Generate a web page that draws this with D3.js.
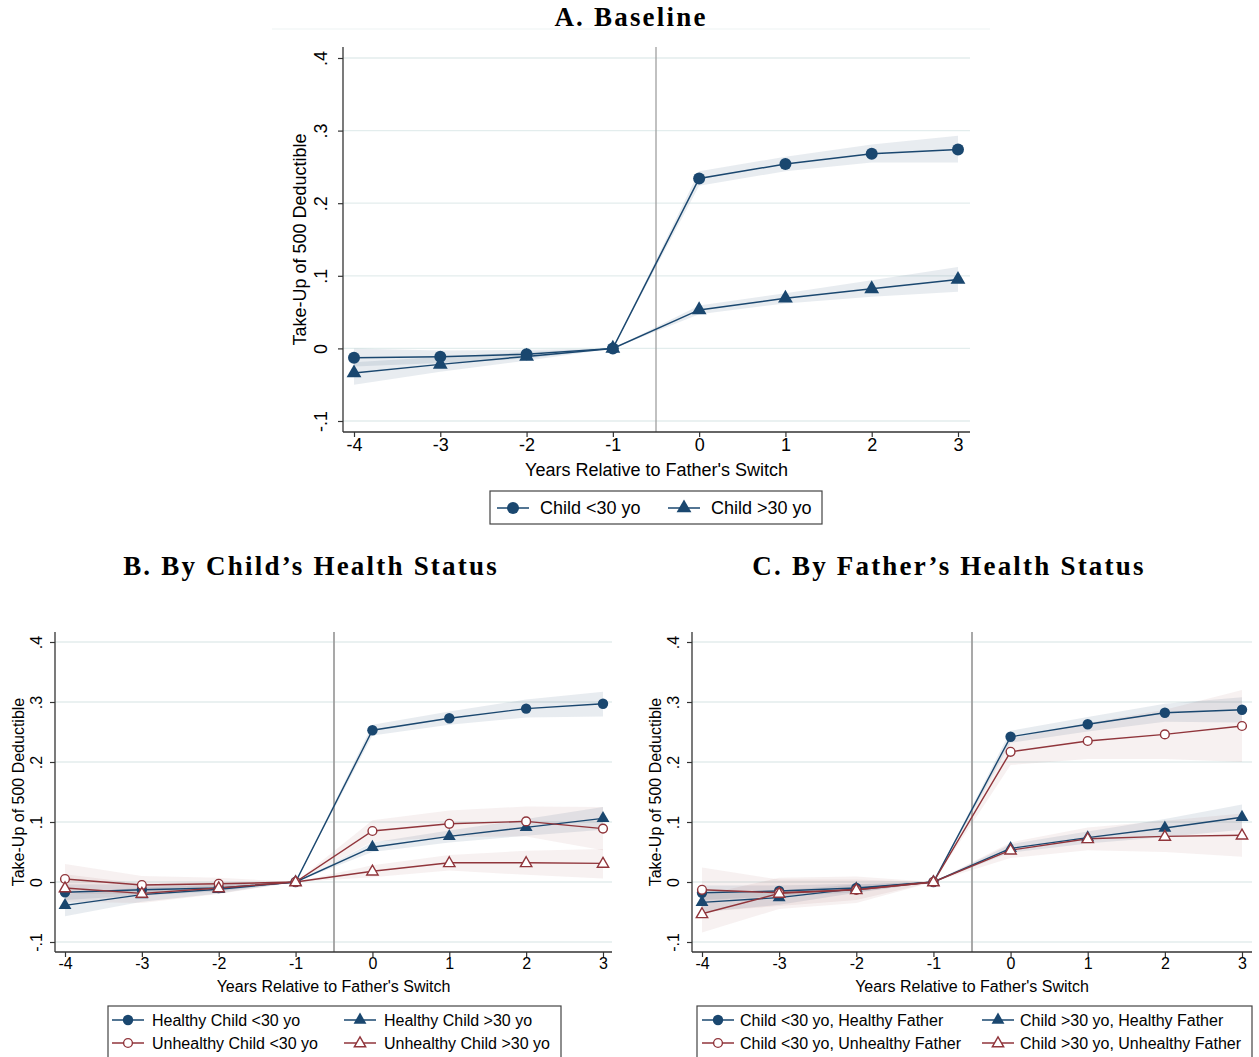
<!DOCTYPE html>
<html><head><meta charset="utf-8">
<script src="https://cdn.jsdelivr.net/npm/d3@7"></script>
<style>
body{margin:0;background:#fff;}
svg{display:block;}
text{font-family:"Liberation Sans",Arial,sans-serif;fill:#000;}
.ttl{font-family:"Liberation Serif","Times New Roman",serif;font-weight:bold;}
</style></head>
<body>
<script>
// ---------- data ----------
const years = [-4,-3,-2,-1,0,1,2,3];
const yTicks = [-0.1,0,0.1,0.2,0.3,0.4];
const yTickLabels = ["-.1","0",".1",".2",".3",".4"];
const xTickLabels = ["-4","-3","-2","-1","0","1","2","3"];

// Panel A
const A_young    = [-0.013,-0.0115,-0.008,0,0.234,0.254,0.268,0.274];
const A_young_lo = [-0.025,-0.020,-0.014,0,0.224,0.244,0.256,0.256];
const A_young_hi = [0.000,-0.003,-0.002,0,0.244,0.264,0.281,0.293];
const A_old      = [-0.034,-0.022,-0.011,0,0.053,0.069,0.082,0.095];
const A_old_lo   = [-0.050,-0.032,-0.017,0,0.047,0.062,0.071,0.078];
const A_old_hi   = [-0.019,-0.012,-0.005,0,0.059,0.076,0.094,0.112];

// Panel B
const B_hy    = [-0.017,-0.013,-0.010,0,0.253,0.273,0.289,0.297];
const B_hy_lo = [-0.030,-0.022,-0.016,0,0.244,0.262,0.274,0.276];
const B_hy_hi = [-0.004,-0.004,-0.004,0,0.262,0.284,0.304,0.317];
const B_ho    = [-0.039,-0.021,-0.012,0,0.058,0.076,0.091,0.106];
const B_ho_lo = [-0.057,-0.033,-0.019,0,0.050,0.066,0.077,0.087];
const B_ho_hi = [-0.021,-0.009,-0.005,0,0.066,0.086,0.105,0.125];
const B_uy    = [0.005,-0.005,-0.003,0,0.085,0.097,0.101,0.089];
const B_uy_lo = [-0.020,-0.020,-0.013,0,0.067,0.075,0.076,0.053];
const B_uy_hi = [0.030,0.010,0.007,0,0.103,0.119,0.126,0.125];
const B_uo    = [-0.010,-0.019,-0.010,0,0.018,0.032,0.032,0.031];
const B_uo_lo = [-0.033,-0.035,-0.020,0,0.008,0.019,0.012,0.006];
const B_uo_hi = [0.013,-0.003,0.000,0,0.028,0.045,0.052,0.055];

// Panel C
const C_yh    = [-0.018,-0.015,-0.010,0,0.242,0.263,0.282,0.287];
const C_yh_lo = [-0.030,-0.024,-0.017,0,0.232,0.251,0.267,0.266];
const C_yh_hi = [-0.006,-0.006,-0.003,0,0.252,0.275,0.297,0.308];
const C_yu    = [-0.013,-0.018,-0.013,0,0.217,0.235,0.246,0.260];
const C_yu_lo = [-0.050,-0.040,-0.030,0,0.195,0.205,0.205,0.200];
const C_yu_hi = [0.024,0.004,0.004,0,0.239,0.265,0.287,0.320];
const C_oh    = [-0.034,-0.026,-0.011,0,0.056,0.074,0.090,0.108];
const C_oh_lo = [-0.050,-0.038,-0.018,0,0.049,0.064,0.075,0.087];
const C_oh_hi = [-0.018,-0.014,-0.004,0,0.063,0.084,0.105,0.129];
const C_ou    = [-0.053,-0.019,-0.013,0,0.053,0.072,0.076,0.078];
const C_ou_lo = [-0.084,-0.045,-0.035,0,0.040,0.053,0.050,0.042];
const C_ou_hi = [-0.022,0.007,0.009,0,0.066,0.091,0.102,0.114];

const titles = ["A. Baseline","B. By Child\u2019s Health Status","C. By Father\u2019s Health Status"];
const xTitle = "Years Relative to Father's Switch";
const yTitle = "Take-Up of 500 Deductible";
const legA = ["Child <30 yo","Child >30 yo"];
const legB = ["Healthy Child <30 yo","Healthy Child >30 yo","Unhealthy Child <30 yo","Unhealthy Child >30 yo"];
const legC = ["Child <30 yo, Healthy Father","Child >30 yo, Healthy Father","Child <30 yo, Unhealthy Father","Child >30 yo, Unhealthy Father"];

// ---------- drawing ----------
const NAVY = "#1a476f", MAROON = "#90353b";
const svg = d3.select("body").append("svg").attr("width",1259).attr("height",1057);

function drawMarker(g, kind, x, y, big){
  const r = big ? 6 : 5.2;
  if(kind==="fc"){ g.append("circle").attr("cx",x).attr("cy",y).attr("r",r).attr("fill",NAVY); }
  else if(kind==="ft"){ g.append("path").attr("d",d3.symbol(d3.symbolTriangle, big?95:72)()).attr("transform",`translate(${x},${y})`).attr("fill",NAVY); }
  else if(kind==="hc"){ g.append("circle").attr("cx",x).attr("cy",y).attr("r",4.4).attr("fill","#fff").attr("stroke",MAROON).attr("stroke-width",1.4); }
  else if(kind==="ht"){ g.append("path").attr("d",d3.symbol(d3.symbolTriangle, 56)()).attr("transform",`translate(${x},${y+0.5})`).attr("fill","#fff").attr("stroke",MAROON).attr("stroke-width",1.4); }
}

function panel(cfg){
  const g = svg.append("g");
  const x = d3.scaleLinear().domain([-4,3]).range(cfg.xr);
  const y = d3.scaleLinear().domain([-0.1,0.4]).range(cfg.yr);
  const [L,R,T,B] = cfg.box;
  g.selectAll(".grid").data(yTicks).enter().append("line")
    .attr("x1",L).attr("x2",R).attr("y1",d=>y(d)).attr("y2",d=>y(d))
    .attr("stroke","#e3eded").attr("stroke-width",1.3);
  cfg.series.forEach(s=>{
    const area = d3.area().x((d,i)=>x(years[i])).y0((d,i)=>y(s.lo[i])).y1((d,i)=>y(s.hi[i]));
    g.append("path").datum(s.v).attr("d",area)
      .attr("fill", s.color===NAVY ? "rgba(26,71,111,0.10)" : "rgba(144,53,59,0.07)");
  });
  g.append("line").attr("x1",x(-0.5)).attr("x2",x(-0.5)).attr("y1",T).attr("y2",B)
    .attr("stroke","#a0a0a0").attr("stroke-width",cfg.big?1.3:1.8);
  cfg.series.forEach(s=>{
    const line = d3.line().x((d,i)=>x(years[i])).y(d=>y(d));
    g.append("path").datum(s.v).attr("d",line).attr("fill","none")
      .attr("stroke",s.color).attr("stroke-width",cfg.big?1.5:1.4);
  });
  cfg.series.forEach(s=>{
    s.v.forEach((v,i)=>drawMarker(g,s.kind,x(years[i]),y(v),cfg.big));
  });
  const axY = d3.axisLeft(y).tickValues(yTicks).tickSize(5).tickFormat((d,i)=>yTickLabels[i]);
  const gy = g.append("g").attr("transform",`translate(${L},0)`).call(axY);
  gy.select(".domain").attr("d",`M0,${T}V${B}`).attr("stroke","#333").attr("stroke-width",1.3);
  gy.selectAll(".tick line").attr("stroke","#333").attr("stroke-width",1.2);
  gy.selectAll(".tick text").attr("font-size",cfg.fs).attr("fill","#000")
    .attr("text-anchor","middle").attr("x",null).attr("dy","0.35em")
    .attr("transform",`translate(${cfg.ylabX-L},0) rotate(-90)`);
  const axX = d3.axisBottom(x).tickValues(years).tickSize(5).tickFormat((d,i)=>xTickLabels[i]);
  const gx = g.append("g").attr("transform",`translate(0,${B})`).call(axX);
  gx.select(".domain").attr("d",`M${L},0H${R}`).attr("stroke","#333").attr("stroke-width",1.3);
  gx.selectAll(".tick line").attr("stroke","#333").attr("stroke-width",1.2);
  gx.selectAll(".tick text").attr("font-size",cfg.fs).attr("fill","#000").attr("y",cfg.xlabDy).attr("dy","0.35em");
  g.append("text").attr("x",(L+R)/2).attr("y",cfg.xTitleY).attr("text-anchor","middle")
    .attr("dy","0.35em").attr("font-size",cfg.fs).text(xTitle);
  g.append("text").attr("transform",`translate(${cfg.yTitleX},${(T+B)/2}) rotate(-90)`)
    .attr("text-anchor","middle").attr("dy","0.35em").attr("font-size",cfg.fs).text(yTitle);
  svg.append("text").attr("class","ttl").attr("x",cfg.titleX).attr("y",cfg.titleY)
    .attr("text-anchor","middle").attr("font-size",27).attr("letter-spacing","2.2px").text(cfg.title);
  const lg = svg.append("g");
  const lb = cfg.legBox;
  lg.append("rect").attr("x",lb[0]).attr("y",lb[1]).attr("width",lb[2]).attr("height",lb[3])
    .attr("fill","#fff").attr("stroke","#444").attr("stroke-width",1.2);
  cfg.series.forEach((s,i)=>{
    const p = cfg.legPos[i];
    lg.append("line").attr("x1",p[0]-16).attr("x2",p[0]+16).attr("y1",p[1]).attr("y2",p[1])
      .attr("stroke",s.color).attr("stroke-width",1.5);
    drawMarker(lg,s.kind,p[0],p[1],cfg.big);
    lg.append("text").attr("x",p[0]+cfg.legTextOff).attr("y",p[1]).attr("dy","0.35em")
      .attr("font-size",cfg.fs).text(cfg.legLabels[i]);
  });
}

svg.append("line").attr("x1",272).attr("x2",990).attr("y1",29).attr("y2",29).attr("stroke","#eef3f3").attr("stroke-width",1.2);

panel({
  big:true, fs:18, xr:[354,958], yr:[421,58], box:[343,970,47,432],
  ylabX:321, xlabDy:13, xTitleY:470, yTitleX:300,
  title:titles[0], titleX:631, titleY:26,
  series:[
    {v:A_young, lo:A_young_lo, hi:A_young_hi, color:NAVY, kind:"fc"},
    {v:A_old, lo:A_old_lo, hi:A_old_hi, color:NAVY, kind:"ft"}
  ],
  legBox:[490,491,332,33], legPos:[[513,508],[684,508]], legTextOff:27, legLabels:legA
});

panel({
  big:false, fs:16, xr:[65,603], yr:[942,642], box:[55,612,632,952],
  ylabX:36, xlabDy:11, xTitleY:986, yTitleX:18,
  title:titles[1], titleX:311, titleY:575,
  series:[
    {v:B_hy, lo:B_hy_lo, hi:B_hy_hi, color:NAVY, kind:"fc"},
    {v:B_ho, lo:B_ho_lo, hi:B_ho_hi, color:NAVY, kind:"ft"},
    {v:B_uy, lo:B_uy_lo, hi:B_uy_hi, color:MAROON, kind:"hc"},
    {v:B_uo, lo:B_uo_lo, hi:B_uo_hi, color:MAROON, kind:"ht"}
  ],
  legBox:[108,1006,453,60], legPos:[[128,1020],[360,1020],[128,1043],[360,1043]], legTextOff:24, legLabels:legB
});

panel({
  big:false, fs:16, xr:[702,1242], yr:[942,642], box:[692,1252,632,952],
  ylabX:673, xlabDy:11, xTitleY:986, yTitleX:655,
  title:titles[2], titleX:949, titleY:575,
  series:[
    {v:C_yh, lo:C_yh_lo, hi:C_yh_hi, color:NAVY, kind:"fc"},
    {v:C_oh, lo:C_oh_lo, hi:C_oh_hi, color:NAVY, kind:"ft"},
    {v:C_yu, lo:C_yu_lo, hi:C_yu_hi, color:MAROON, kind:"hc"},
    {v:C_ou, lo:C_ou_lo, hi:C_ou_hi, color:MAROON, kind:"ht"}
  ],
  legBox:[697,1006,555,60], legPos:[[718,1020],[998,1020],[718,1043],[998,1043]], legTextOff:22, legLabels:legC
});
</script>
</body></html>
